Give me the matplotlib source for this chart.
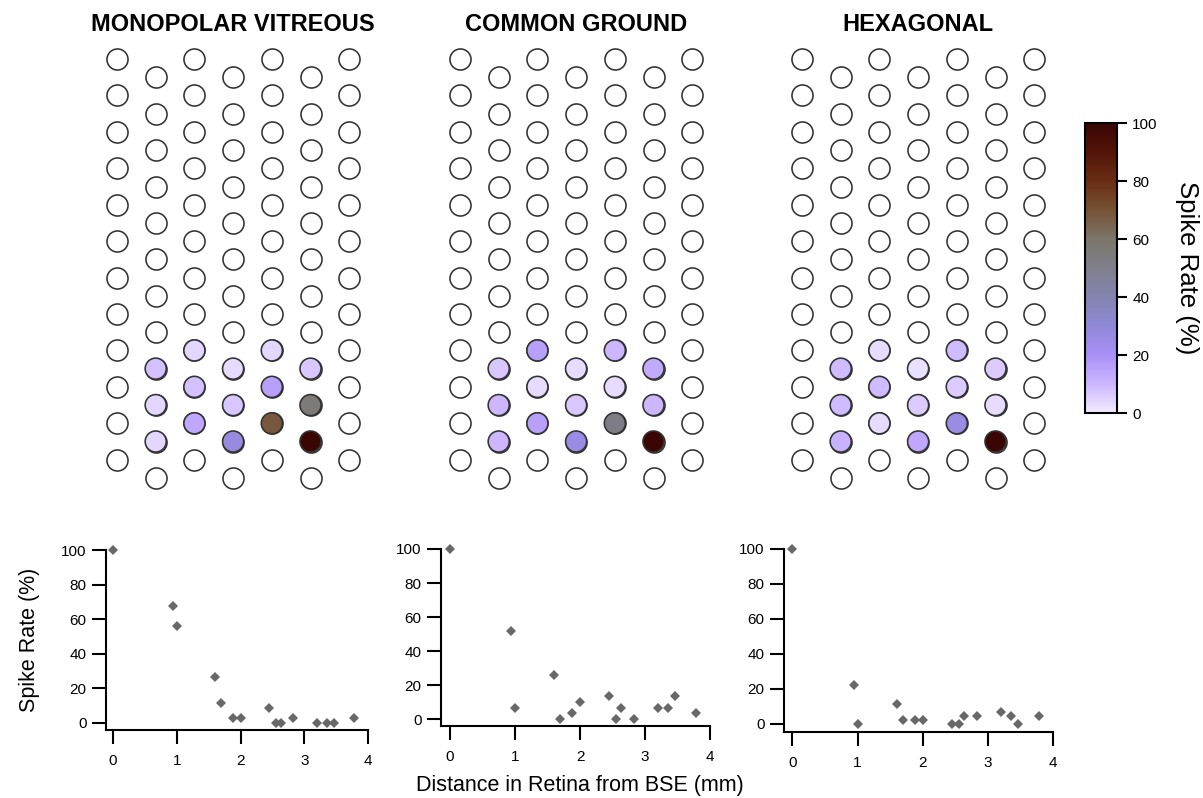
import numpy as np
import matplotlib
matplotlib.use("Agg")
import matplotlib.pyplot as plt
from matplotlib.colors import LinearSegmentedColormap, Normalize
from matplotlib.cm import ScalarMappable

plt.rcParams['font.family'] = ['Liberation Sans', 'DejaVu Sans']

# ---------------- data ----------------
titles = ["MONOPOLAR VITREOUS", "COMMON GROUND", "HEXAGONAL"]
n_cols = 7
n_rows = 12

# active electrodes (column, row) and their spike rate (%)
active_cols = [1, 1, 1, 2, 2, 2, 3, 3, 3, 4, 4, 4, 5, 5, 5]
active_rows = [8, 9, 10, 8, 9, 10, 8, 9, 10, 8, 9, 10, 8, 9, 10]
elec_rate_mv = [8, 4, 4, 4, 8, 14, 3, 7, 27, 4, 16, 68, 7, 56, 100]
elec_rate_cg = [7, 10, 10, 16, 3, 16, 3, 7, 26, 10, 3, 52, 13, 10, 100]
elec_rate_hex = [9, 9, 11, 3, 9, 3, 2, 6, 14, 9, 6, 26, 6, 3, 100]

# spike rate vs distance from BSE
distance = [0, 0.94, 1.0, 1.6, 1.69, 1.88, 2.0, 2.45, 2.56, 2.63, 2.83, 3.2, 3.35, 3.46, 3.78]
rate_mv = [100, 67.6, 55.8, 26.3, 11.6, 2.5, 2.5, 8.5, 0, 0, 2.5, 0, 0, 0, 2.5]
rate_cg = [100, 51.8, 6.3, 25.9, 0, 3.5, 9.8, 13.3, 0, 6.3, 0, 6.3, 6.3, 13.3, 3.5]
rate_hex = [100, 22.3, 0, 11.2, 2.1, 2.1, 2.1, 0, 0, 4.6, 4.6, 6.7, 4.6, 0, 4.6]

cbar_ticks = [0, 20, 40, 60, 80, 100]
x_ticks = [0, 1, 2, 3, 4]
y_ticks = [0, 20, 40, 60, 80, 100]

# ---------------- colormap ----------------
cmap = LinearSegmentedColormap.from_list("spike", [
    (0.0, '#f2eaff'), (0.1, '#cbb6ff'), (0.2, '#a88ff6'), (0.3, '#9088d6'),
    (0.4, '#8484b0'), (0.5, '#7f7f8c'), (0.6, '#7c766a'), (0.7, '#765234'),
    (0.8, '#6a2e14'), (0.9, '#541408'), (1.0, '#3a0604')])
norm = Normalize(0, 100)

W, H = 1203, 798
fig = plt.figure(figsize=(W / 100, H / 100), dpi=100)


def px_axes(l, t, r, b):
    return fig.add_axes([l / W, 1 - b / H, (r - l) / W, (b - t) / H])


# ---------------- electrode arrays ----------------
col_px = 38.7
row_px = 36.43
x0s = [117, 460, 802]
elec_rates = [elec_rate_mv, elec_rate_cg, elec_rate_hex]

all_cols = np.repeat(np.arange(n_cols), n_rows)
all_rows = np.tile(np.arange(n_rows), n_cols)

for x0, title, rates in zip(x0s, titles, elec_rates):
    ax = px_axes(x0 - 0.5 * col_px, 59 - 0.5 * row_px,
                 x0 + 6.5 * col_px, 59 + 12 * row_px)
    ax.set_xlim(-0.5, 6.5)
    ax.set_ylim(12, -0.5)
    ax.axis('off')
    ys = all_rows + 0.5 * (all_cols % 2)
    ax.scatter(all_cols, ys, s=230, facecolor='white', edgecolor='#333333',
               linewidth=1.15, zorder=2)
    ac = np.array(active_cols)
    ar = np.array(active_rows) + 0.5 * (ac % 2)
    ax.scatter(ac, ar, s=230, c=rates, cmap=cmap, norm=norm,
               edgecolor='#333333', linewidth=1.15, zorder=3)
    ax.set_title(title, fontsize=17, fontweight='bold', pad=7)

# colorbar
cax = px_axes(1085, 123, 1117, 413)
cb = fig.colorbar(ScalarMappable(norm=norm, cmap=cmap), cax=cax, ticks=cbar_ticks)
cb.outline.set_linewidth(1.5)
cax.tick_params(length=7, width=1.5, labelsize=11, pad=4)
cb.set_label("Spike Rate (%)", rotation=270, fontsize=18.5, labelpad=30)

# ---------------- scatter plots ----------------
scatter_boxes = [(106, 550, 368, 730), (441, 549, 710, 726), (784, 549, 1053, 732)]
xlims = [(-0.11, 4.0), (-0.14, 4.0), (-0.13, 4.0)]
ylims = [(-4.2, 100), (-4.1, 100), (-4.6, 100)]
rates_all = [rate_mv, rate_cg, rate_hex]

for i, (box, xl, yl, r) in enumerate(zip(scatter_boxes, xlims, ylims, rates_all)):
    ax = px_axes(*box)
    ax.plot(distance, r, linestyle='none', marker='D', ms=5.6, color='#686868',
            markeredgewidth=0, clip_on=False, zorder=3)
    ax.set_xlim(*xl)
    ax.set_ylim(*yl)
    ax.set_xticks(x_ticks)
    ax.set_yticks(y_ticks)
    for s in ['top', 'right']:
        ax.spines[s].set_visible(False)
    for s in ['left', 'bottom']:
        ax.spines[s].set_linewidth(1.5)
    ax.tick_params(direction='out', length=10, width=1.5, labelsize=11)
    ax.tick_params(axis='x', pad=7)
    ax.tick_params(axis='y', pad=4)
    if i == 0:
        ax.set_ylabel("Spike Rate (%)", fontsize=15.5, labelpad=15)

fig.text(580 / W, 1 - 785 / H, "Distance in Retina from BSE (mm)",
         ha='center', va='center', fontsize=15.5)

fig.savefig("out.png", dpi=100, facecolor='white')
